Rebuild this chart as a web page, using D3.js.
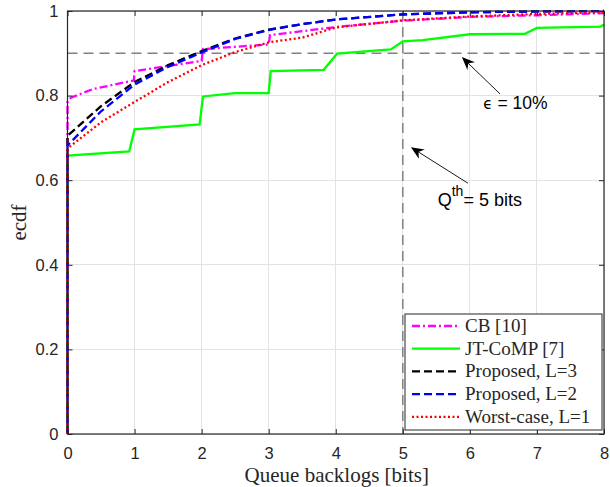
<!DOCTYPE html>
<html><head><meta charset="utf-8">
<script src="https://cdn.jsdelivr.net/npm/d3@7"></script>
<style>body{margin:0;background:#fff}svg{display:block}</style>
</head><body>
<svg id="chart" width="610" height="487"></svg>
<script>
// ---- data ----
const xTicks = [0,1,2,3,4,5,6,7,8];
const yTicks = [0,0.2,0.4,0.6,0.8,1];
const yTickLabels = ["0","0.2","0.4","0.6","0.8","1"];
const seriesNames = ["CB [10]","JT-CoMP [7]","Proposed, L=3","Proposed, L=2","Worst-case, L=1"];
const cbX = [0,0,0.05,0.37,0.99,1.0,2.0,2.02,3.0,3.02,4.0,5.0,6.0,7.0,8.0];
const cbY = [0,0.785,0.795,0.815,0.836,0.858,0.882,0.91,0.921,0.943,0.962,0.977,0.986,0.99,0.995];
const jtX = [0,0,0.92,1.0,1.97,2.02,2.5,3.0,3.03,3.82,4.02,4.82,5.0,5.3,6.0,6.82,7.0,7.95,8.0];
const jtY = [0,0.658,0.668,0.72,0.732,0.798,0.806,0.806,0.858,0.861,0.899,0.909,0.928,0.931,0.945,0.946,0.96,0.963,0.968];
const p3X = [0,0,0.5,1,1.5,2,2.5,3,3.5,4,5,6,7,8];
const p3Y = [0,0.705,0.775,0.832,0.872,0.905,0.935,0.956,0.969,0.98,0.992,0.997,0.999,1.0];
const p2X = [0,0,0.5,1,1.5,2,2.5,3,3.5,4,5,6,7,8];
const p2Y = [0,0.682,0.763,0.826,0.868,0.902,0.934,0.955,0.969,0.98,0.992,0.997,0.999,1.0];
const wcX = [0,0,0.5,1,1.5,2,2.5,3,3.5,4,5,6,7,8];
const wcY = [0,0.675,0.737,0.785,0.832,0.872,0.903,0.926,0.937,0.961,0.978,0.987,0.993,0.997];
const epsLevel = 0.9;
const qThreshold = 5;
// annotations (data coordinates)
const annEps = {text:"10%", tail:[6.45,0.804], head:[5.88,0.891], at:[6.2,0.768]};
const annQ = {text:"5 bits", tail:[5.97,0.593], head:[5.12,0.678], at:[5.52,0.539]};

// ---- layout ----
const svg = d3.select("#chart");
const L = 67.5, R = 604, T = 11, B = 434;
const x = d3.scaleLinear().domain([0,8]).range([L,R]);
const y = d3.scaleLinear().domain([0,1]).range([B,T]);
const axisColor = "#262626";
const tickFont = "'Liberation Sans', Arial, sans-serif";
const serif = "'Liberation Serif', 'Times New Roman', serif";

// grid
const g = svg.append("g");
g.selectAll(".gx").data(xTicks).join("line")
  .attr("x1",d=>x(d)).attr("x2",d=>x(d)).attr("y1",T).attr("y2",B)
  .attr("stroke","#e3e3e3").attr("stroke-width",1).attr("shape-rendering","crispEdges");
g.selectAll(".gy").data(yTicks).join("line")
  .attr("x1",L).attr("x2",R).attr("y1",d=>y(d)).attr("y2",d=>y(d))
  .attr("stroke","#e3e3e3").attr("stroke-width",1).attr("shape-rendering","crispEdges");

// reference dashed lines
svg.append("line").attr("x1",x(0)).attr("x2",x(8)).attr("y1",y(epsLevel)).attr("y2",y(epsLevel))
  .attr("stroke","#808080").attr("stroke-width",1.5).attr("stroke-dasharray","10,6");
svg.append("line").attr("x1",x(qThreshold)).attr("x2",x(qThreshold)).attr("y1",y(1)).attr("y2",y(0))
  .attr("stroke","#808080").attr("stroke-width",1.5).attr("stroke-dasharray","10,6");

// series
const series = [
  {name:seriesNames[0], xs:cbX, ys:cbY, color:"#ff00ff", dash:"8,3,2,3"},
  {name:seriesNames[1], xs:jtX, ys:jtY, color:"#00ff00", dash:null},
  {name:seriesNames[2], xs:p3X, ys:p3Y, color:"#000000", dash:"8,4"},
  {name:seriesNames[3], xs:p2X, ys:p2Y, color:"#0000ff", dash:"8,4"},
  {name:seriesNames[4], xs:wcX, ys:wcY, color:"#ff0000", dash:"2,2.5"}
];
const line = d3.line().x(d=>x(d[0])).y(d=>y(d[1]));
series.forEach((s,i)=>{
  const pts = s.xs.map((v,k)=>[v,s.ys[k]]);
  svg.append("path").attr("d",line(pts)).attr("fill","none")
    .attr("stroke",s.color).attr("stroke-width",2.3)
    .attr("stroke-dasharray",s.dash).attr("stroke-dashoffset", i===3?4:0);
});

// axes box
const xAxisB = d3.axisBottom(x).tickValues(xTicks).tickSize(-5).tickPadding(13).tickFormat(d3.format("d"));
const xAxisT = d3.axisTop(x).tickValues(xTicks).tickSize(-5).tickFormat("");
const yAxisL = d3.axisLeft(y).tickValues(yTicks).tickSize(-5).tickPadding(9).tickFormat((d,i)=>yTickLabels[i]);
const yAxisR = d3.axisRight(y).tickValues(yTicks).tickSize(-5).tickFormat("");
function style(sel){
  sel.select(".domain").attr("stroke",axisColor).attr("stroke-width",1.2);
  sel.selectAll(".tick line").attr("stroke",axisColor).attr("stroke-width",1);
  sel.selectAll(".tick text").attr("fill",axisColor).style("font-family",tickFont).style("font-size","16.5px");
}
svg.append("g").attr("transform",`translate(0,${B})`).call(xAxisB).call(style);
svg.append("g").attr("transform",`translate(0,${T})`).call(xAxisT).call(style);
svg.append("g").attr("transform",`translate(${L},0)`).call(yAxisL).call(style);
svg.append("g").attr("transform",`translate(${R},0)`).call(yAxisR).call(style);
svg.selectAll(".domain").attr("d",null);
svg.append("rect").attr("x",L).attr("y",T).attr("width",R-L).attr("height",B-T)
  .attr("fill","none").attr("stroke",axisColor).attr("stroke-width",1.2);

// axis labels
svg.append("text").attr("x",(L+R)/2+1).attr("y",482).attr("text-anchor","middle")
  .style("font-family",serif).style("font-size","21px").attr("fill",axisColor).text("Queue backlogs [bits]");
svg.append("text").attr("transform",`translate(26,${(T+B)/2}) rotate(-90)`).attr("text-anchor","middle")
  .style("font-family",serif).style("font-size","21px").attr("fill",axisColor).text("ecdf");

// annotations
function arrow(a){
  const x1=x(a.tail[0]), y1=y(a.tail[1]), x2=x(a.head[0]), y2=y(a.head[1]);
  const ang = Math.atan2(y2-y1,x2-x1);
  const len=13, wid=5.5, back=4;
  svg.append("line").attr("x1",x1).attr("y1",y1).attr("x2",x2-Math.cos(ang)*8).attr("y2",y2-Math.sin(ang)*8)
    .attr("stroke","#000").attr("stroke-width",0.9);
  const p = (dx,dy)=>[x2+dx*Math.cos(ang)-dy*Math.sin(ang), y2+dx*Math.sin(ang)+dy*Math.cos(ang)];
  const pts=[p(0,0),p(-len,-wid),p(-len+back,0),p(-len,wid)];
  svg.append("path").attr("d","M"+pts.map(q=>q.join(",")).join("L")+"Z").attr("fill","#000");
}
arrow(annEps); arrow(annQ);
const te = svg.append("text").attr("x",x(annEps.at[0])).attr("y",y(annEps.at[1]))
  .style("font-family",tickFont).style("font-size","17.5px").attr("fill","#000");
te.append("tspan").style("font-size","15px").style("font-family","'DejaVu Sans', sans-serif").text("\u03F5");
te.append("tspan").text(" = "+annEps.text);
const tq = svg.append("text").attr("x",x(annQ.at[0])).attr("y",y(annQ.at[1]))
  .style("font-family",tickFont).style("font-size","18px").attr("fill","#000");
tq.append("tspan").text("Q");
tq.append("tspan").attr("dy",-10).style("font-size","14px").text("th");
tq.append("tspan").attr("dy",10).text("= "+annQ.text);

// legend
const lg = svg.append("g");
const lx=405, ly=314, lw=197, lh=116;
lg.append("rect").attr("x",lx).attr("y",ly).attr("width",lw).attr("height",lh)
  .attr("fill","#fff").attr("stroke",axisColor).attr("stroke-width",1);
series.forEach((s,i)=>{
  const yy = ly+12+i*22.7;
  lg.append("line").attr("x1",lx+7).attr("x2",lx+55).attr("y1",yy).attr("y2",yy)
    .attr("stroke",s.color).attr("stroke-width",2.3).attr("stroke-dasharray",s.dash);
  lg.append("text").attr("x",lx+60).attr("y",yy+6).style("font-family",serif).style("font-size","19px")
    .attr("fill",axisColor).text(s.name);
});
</script>
</body></html>
